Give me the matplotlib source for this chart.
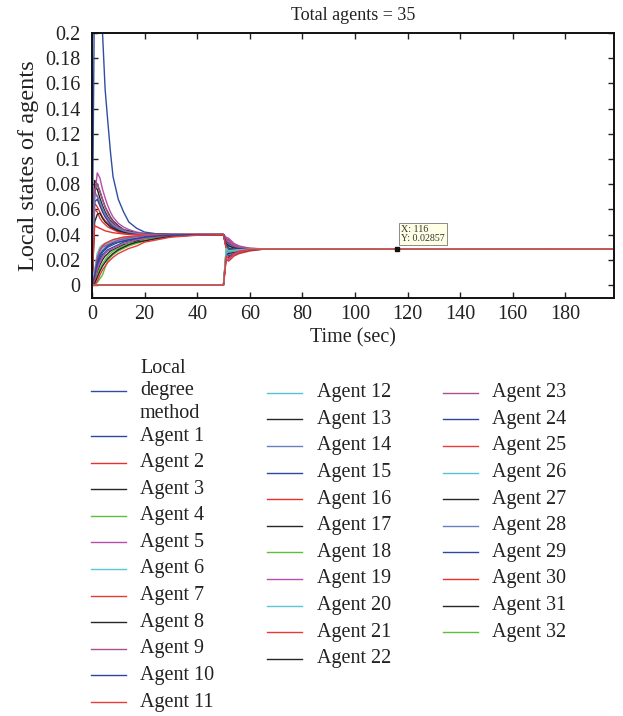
import matplotlib
matplotlib.use("Agg")
import matplotlib.pyplot as plt
from matplotlib.lines import Line2D

plt.rcParams['font.family'] = ['Liberation Serif', 'DejaVu Serif']

# ---- time grids -------------------------------------------------------
t_pre = [0, 1, 2, 3, 4, 5, 6, 7, 8, 10, 12, 14, 17, 20, 25, 30, 40, 50]
t_post = [51, 52, 54, 56, 60, 65, 199]
join_time = 50

# ---- local degree method ----------------------------------------------
method_pre = [0, 0.25, 0.28, 0.24, 0.20, 0.155, 0.13, 0.106, 0.086, 0.068,
              0.058, 0.050, 0.045, 0.042, 0.0405, 0.0401, 0.04, 0.04]
method_post = [0.034, 0.031, 0.029, 0.0288, 0.0286, 0.02857, 0.02857]

# ---- agents 1..25, present from t = 0 ----------------------------------
initial_pre = [
    [0, 0.006, 0.016, 0.022, 0.026, 0.028, 0.030, 0.031, 0.032, 0.034, 0.035, 0.036, 0.037, 0.038, 0.039, 0.0395, 0.04, 0.04],
    [0, 0.074, 0.070, 0.064, 0.059, 0.055, 0.052, 0.049, 0.047, 0.044, 0.042, 0.041, 0.0405, 0.0402, 0.0401, 0.04, 0.04, 0.04],
    [0, 0.083, 0.080, 0.074, 0.068, 0.062, 0.058, 0.054, 0.051, 0.047, 0.044, 0.043, 0.0415, 0.0408, 0.0402, 0.0401, 0.04, 0.04],
    [0, 0.0, 0.002, 0.005, 0.008, 0.014, 0.019, 0.022, 0.024, 0.027, 0.029, 0.031, 0.033, 0.035, 0.037, 0.0385, 0.0398, 0.04],
    [0, 0.070, 0.089, 0.085, 0.076, 0.069, 0.063, 0.058, 0.054, 0.049, 0.046, 0.044, 0.042, 0.041, 0.0403, 0.0401, 0.04, 0.04],
    [0, 0.010, 0.024, 0.029, 0.031, 0.032, 0.033, 0.034, 0.035, 0.036, 0.037, 0.038, 0.039, 0.0395, 0.0398, 0.04, 0.04, 0.04],
    [0, 0.065, 0.062, 0.058, 0.054, 0.051, 0.049, 0.047, 0.045, 0.043, 0.042, 0.041, 0.0405, 0.0402, 0.0401, 0.04, 0.04, 0.04],
    [0, 0.078, 0.076, 0.069, 0.063, 0.058, 0.054, 0.051, 0.049, 0.046, 0.043, 0.042, 0.041, 0.0405, 0.0402, 0.04, 0.04, 0.04],
    [0, 0.076, 0.080, 0.075, 0.068, 0.062, 0.057, 0.053, 0.050, 0.046, 0.044, 0.042, 0.041, 0.0404, 0.0401, 0.04, 0.04, 0.04],
    [0, 0.066, 0.068, 0.063, 0.058, 0.054, 0.051, 0.048, 0.046, 0.044, 0.042, 0.041, 0.0405, 0.0402, 0.0401, 0.04, 0.04, 0.04],
    [0, 0.060, 0.058, 0.053, 0.050, 0.048, 0.046, 0.045, 0.044, 0.042, 0.041, 0.0405, 0.0402, 0.0401, 0.04, 0.04, 0.04, 0.04],
    [0, 0.008, 0.020, 0.025, 0.028, 0.030, 0.031, 0.032, 0.033, 0.035, 0.036, 0.037, 0.038, 0.039, 0.0395, 0.0398, 0.04, 0.04],
    [0, 0.050, 0.056, 0.057, 0.053, 0.050, 0.048, 0.046, 0.045, 0.043, 0.042, 0.041, 0.0404, 0.0402, 0.0401, 0.04, 0.04, 0.04],
    [0, 0.072, 0.071, 0.066, 0.061, 0.056, 0.053, 0.050, 0.048, 0.045, 0.043, 0.042, 0.041, 0.0403, 0.0401, 0.04, 0.04, 0.04],
    [0, 0.004, 0.014, 0.020, 0.024, 0.026, 0.028, 0.029, 0.030, 0.032, 0.034, 0.035, 0.036, 0.038, 0.039, 0.0395, 0.04, 0.04],
    [0, 0.047, 0.046, 0.045, 0.044, 0.043, 0.0425, 0.042, 0.0415, 0.041, 0.0405, 0.0402, 0.0401, 0.04, 0.04, 0.04, 0.04, 0.04],
    [0, 0.002, 0.010, 0.016, 0.020, 0.023, 0.025, 0.027, 0.028, 0.030, 0.032, 0.033, 0.035, 0.036, 0.038, 0.039, 0.0399, 0.04],
    [0, 0.001, 0.008, 0.013, 0.017, 0.020, 0.023, 0.025, 0.027, 0.029, 0.031, 0.033, 0.034, 0.036, 0.0375, 0.0388, 0.0399, 0.04],
    [0, 0.003, 0.012, 0.018, 0.022, 0.025, 0.027, 0.028, 0.029, 0.031, 0.033, 0.034, 0.036, 0.037, 0.0385, 0.0393, 0.04, 0.04],
    [0, 0.012, 0.025, 0.030, 0.032, 0.033, 0.034, 0.035, 0.036, 0.037, 0.038, 0.0385, 0.039, 0.0395, 0.0398, 0.04, 0.04, 0.04],
    [0, 0.005, 0.020, 0.028, 0.031, 0.033, 0.034, 0.035, 0.036, 0.037, 0.038, 0.0385, 0.039, 0.0395, 0.0398, 0.04, 0.04, 0.04],
    [0, 0.001, 0.006, 0.011, 0.015, 0.018, 0.021, 0.023, 0.025, 0.028, 0.030, 0.032, 0.034, 0.035, 0.037, 0.0385, 0.0398, 0.04],
    [0, 0.009, 0.022, 0.027, 0.030, 0.031, 0.032, 0.033, 0.034, 0.0355, 0.0365, 0.0375, 0.0385, 0.039, 0.0396, 0.0399, 0.04, 0.04],
    [0, 0.007, 0.018, 0.024, 0.027, 0.029, 0.031, 0.032, 0.033, 0.034, 0.035, 0.036, 0.037, 0.038, 0.039, 0.0396, 0.04, 0.04],
    [0, 0.0, 0.003, 0.008, 0.012, 0.015, 0.018, 0.020, 0.022, 0.025, 0.027, 0.029, 0.031, 0.034, 0.036, 0.038, 0.0395, 0.04],
]
initial_post = [
    [0.031, 0.029, 0.0285, 0.0285, 0.0286, 0.02857, 0.02857],
    [0.033, 0.030, 0.029, 0.0287, 0.0286, 0.02857, 0.02857],
    [0.035, 0.033, 0.030, 0.029, 0.0287, 0.02857, 0.02857],
    [0.030, 0.027, 0.0275, 0.028, 0.0285, 0.02857, 0.02857],
    [0.038, 0.037, 0.033, 0.031, 0.0292, 0.0287, 0.02857],
    [0.032, 0.030, 0.029, 0.0287, 0.0286, 0.02857, 0.02857],
    [0.034, 0.031, 0.0295, 0.0288, 0.0286, 0.02857, 0.02857],
    [0.036, 0.033, 0.0305, 0.0292, 0.0287, 0.02857, 0.02857],
    [0.037, 0.035, 0.032, 0.030, 0.029, 0.0287, 0.02857],
    [0.033, 0.031, 0.029, 0.0287, 0.0286, 0.02857, 0.02857],
    [0.032, 0.029, 0.0285, 0.0285, 0.0286, 0.02857, 0.02857],
    [0.031, 0.028, 0.028, 0.0283, 0.0285, 0.02857, 0.02857],
    [0.035, 0.032, 0.030, 0.029, 0.0287, 0.02857, 0.02857],
    [0.034, 0.032, 0.0298, 0.0289, 0.0286, 0.02857, 0.02857],
    [0.031, 0.029, 0.0286, 0.0285, 0.0286, 0.02857, 0.02857],
    [0.033, 0.030, 0.029, 0.0287, 0.0286, 0.02857, 0.02857],
    [0.030, 0.028, 0.028, 0.0284, 0.0285, 0.02857, 0.02857],
    [0.031, 0.029, 0.0283, 0.0284, 0.0285, 0.02857, 0.02857],
    [0.036, 0.034, 0.031, 0.0295, 0.0288, 0.02857, 0.02857],
    [0.032, 0.030, 0.029, 0.0287, 0.0286, 0.02857, 0.02857],
    [0.030, 0.027, 0.0278, 0.0282, 0.0285, 0.02857, 0.02857],
    [0.033, 0.031, 0.0295, 0.0288, 0.0286, 0.02857, 0.02857],
    [0.037, 0.036, 0.032, 0.030, 0.029, 0.0287, 0.02857],
    [0.032, 0.029, 0.0287, 0.0286, 0.0286, 0.02857, 0.02857],
    [0.029, 0.026, 0.027, 0.028, 0.0285, 0.02857, 0.02857],
]

# ---- agents 26..35, joining at t = 50 (state 0 before) ------------------
joined_post = [
    [0.026, 0.024, 0.026, 0.027, 0.0282, 0.0285, 0.02857],
    [0.024, 0.025, 0.026, 0.0272, 0.0282, 0.0285, 0.02857],
    [0.027, 0.026, 0.0268, 0.0276, 0.0283, 0.0285, 0.02857],
    [0.025, 0.023, 0.025, 0.0268, 0.0281, 0.0285, 0.02857],
    [0.020, 0.019, 0.023, 0.025, 0.027, 0.0284, 0.02857],
    [0.022, 0.022, 0.024, 0.026, 0.0278, 0.0284, 0.02857],
    [0.028, 0.027, 0.0272, 0.0278, 0.0284, 0.0285, 0.02857],
    [0.021, 0.020, 0.024, 0.0262, 0.0279, 0.0284, 0.02857],
    [0.029, 0.027, 0.0275, 0.028, 0.0284, 0.0285, 0.02857],
    [0.023, 0.021, 0.025, 0.027, 0.0282, 0.0285, 0.02857],
]

# ---- data tip ------------------------------------------------------------
tip_x = 116
tip_y = 0.02857

# ---- styling -------------------------------------------------------------
method_color = '#2F4DA3'
cycle = ['#2B4A9F', '#E8302C', '#262626', '#5CBF3C', '#B550AA', '#5EC5D6',
         '#E73A35', '#262626', '#A9508E', '#2C479A', '#EA3A3A', '#55C3D3',
         '#262626', '#6A7FC0']
legend_count = 32
lw = 1.0
txt = '#222222'

fig = plt.figure(figsize=(6.23, 7.16), dpi=100)
W, H = 623, 716
ax = fig.add_axes([92 / W, 1 - 298 / H, (614 - 92) / W, (298 - 33) / H])

lines = []
h, = ax.plot(t_pre + t_post, method_pre + method_post, color=method_color, lw=lw)
lines.append((h, 'Local\ndegree\nmethod'))
for k, (pre, post) in enumerate(zip(initial_pre, initial_post)):
    h, = ax.plot(t_pre + t_post, pre + post, color=cycle[k % 14], lw=lw)
    lines.append((h, f'Agent {k + 1}'))
n0 = len(initial_pre)
for j, post in enumerate(joined_post):
    k = n0 + j
    h, = ax.plot([0, join_time] + t_post, [0, 0] + post, color=cycle[k % 14], lw=lw)
    lines.append((h, f'Agent {k + 1}'))

ax.set_xlim(0, 198.5)
ax.set_ylim(-0.0103, 0.2)
xt = list(range(0, 181, 20))
ax.set_xticks(xt)
ax.set_xticklabels([str(v) for v in xt])
yt = [0, 0.02, 0.04, 0.06, 0.08, 0.1, 0.12, 0.14, 0.16, 0.18, 0.2]
ax.set_yticks(yt)
ax.set_yticklabels(['0', '0.02', '0.04', '0.06', '0.08', '0.1', '0.12',
                    '0.14', '0.16', '0.18', '0.2'])
ax.tick_params(direction='in', length=4, width=1.0, top=True, right=True,
               labelsize=14.5, colors=txt)
ax.tick_params(axis='x', pad=5)
ax.tick_params(axis='y', pad=8.5)
for sp in ax.spines.values():
    sp.set_linewidth(1.4)
    sp.set_color('#111111')

ax.set_xlabel('Time (sec)', fontsize=14.5, color=txt, labelpad=3)
ax.set_ylabel('Local states of agents', fontsize=17.5, color=txt, labelpad=4)
ax.set_title('Total agents = 35', fontsize=13, color=txt, pad=9)

# data tip marker and box
ax.plot([tip_x], [tip_y], marker='s', ms=3.5, color='#111111', zorder=10)
ax.annotate(f'X: {tip_x}\nY: {tip_y}', xy=(tip_x, tip_y), xytext=(3, 4),
            textcoords='offset points', fontsize=7.2, color='#333333',
            va='bottom', ha='left', linespacing=1.0,
            bbox=dict(boxstyle='square,pad=0.2', fc='#FFFFE6', ec='#777777', lw=0.6),
            zorder=11)

# legend laid out in three columns below the axes
def fx(px):
    return px / W

def fy(py):
    return 1 - py / H

entries = lines[:legend_count + 1]
cols = [entries[0:12], entries[12:23], entries[23:33]]
col_x = [(91, 126, 140), (267, 302, 317), (443, 478, 492)]
step = 26.6
for ci, col in enumerate(cols):
    x0, x1, xtx = col_x[ci]
    if ci == 0:
        ys = [391] + [436 + step * i for i in range(len(col) - 1)]
    else:
        ys = [392.7 + step * i for i in range(len(col))]
    for (hnd, lab), yy in zip(col, ys):
        fig.add_artist(Line2D([fx(x0), fx(x1)], [fy(yy), fy(yy)],
                              transform=fig.transFigure, color=hnd.get_color(), lw=1.0))
        fig.text(fx(xtx), fy(yy), lab, fontsize=14.5, color=txt,
                 va='center', ha='left', linespacing=1.25)

fig.savefig('out.png', dpi=100)
